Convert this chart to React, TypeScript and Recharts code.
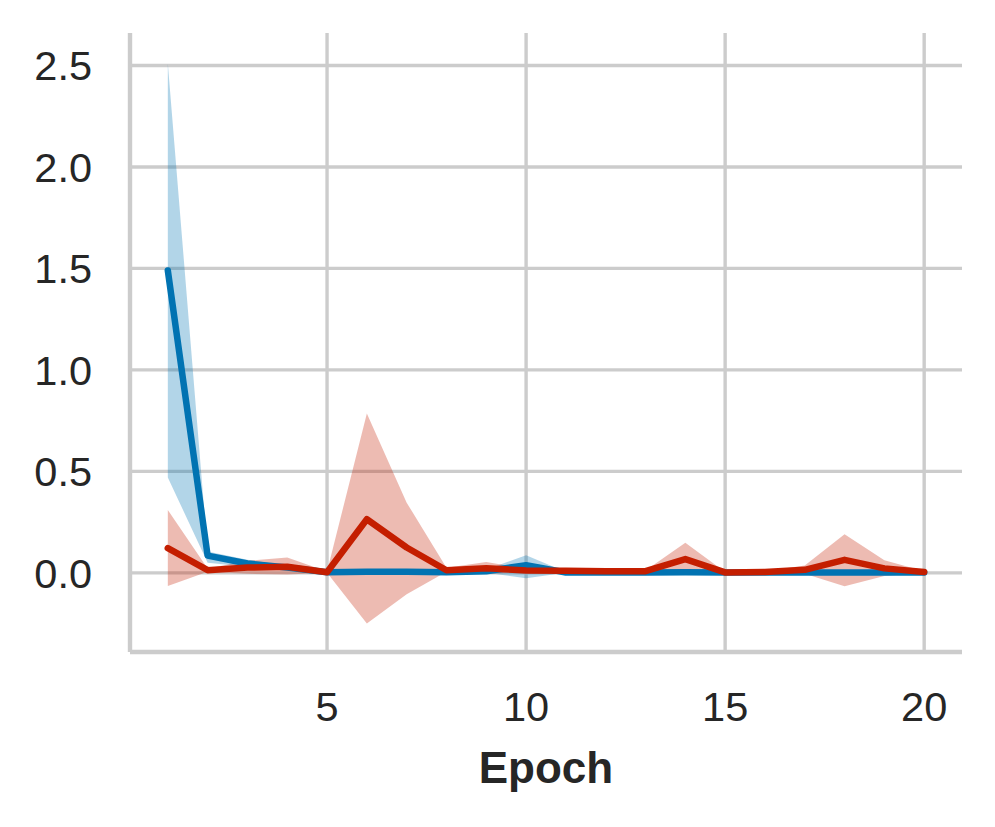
import React from 'react';
import { ComposedChart, Line, Area, XAxis, YAxis, CartesianGrid } from 'recharts';

const epochs = [1, 2, 3, 4, 5, 6, 7, 8, 9, 10, 11, 12, 13, 14, 15, 16, 17, 18, 19, 20];

const blueMean = [1.49, 0.085, 0.046, 0.026, 0.003, 0.006, 0.005, 0.003, 0.008, 0.038, 0.002, 0.002, 0.002, 0.003, 0.002, 0.002, 0.002, 0.002, 0.002, 0.002];
const blueLow = [0.47, 0.05, 0.03, 0.015, 0.0, 0.002, 0.001, 0.0, 0.0, -0.026, 0.0, 0.0, 0.0, 0.0, 0.0, 0.0, 0.0, 0.0, 0.0, 0.0];
const blueHigh = [2.51, 0.105, 0.065, 0.035, 0.007, 0.01, 0.009, 0.006, 0.016, 0.087, 0.004, 0.004, 0.004, 0.006, 0.004, 0.004, 0.004, 0.004, 0.004, 0.004];

const redMean = [0.122, 0.013, 0.026, 0.03, 0.003, 0.264, 0.125, 0.013, 0.023, 0.012, 0.01, 0.008, 0.008, 0.068, 0.002, 0.004, 0.015, 0.064, 0.022, 0.004];
const redLow = [-0.065, 0.005, -0.005, -0.008, 0.0, -0.25, -0.105, 0.005, -0.005, 0.005, 0.005, 0.004, 0.004, -0.01, 0.0, 0.0, -0.005, -0.066, -0.016, 0.0];
const redHigh = [0.31, 0.022, 0.06, 0.076, 0.007, 0.785, 0.346, 0.025, 0.054, 0.02, 0.015, 0.012, 0.012, 0.148, 0.004, 0.008, 0.036, 0.19, 0.062, 0.008];

const xTicks = [5, 10, 15, 20];
const yTicks = [0, 0.5, 1, 1.5, 2, 2.5];

const BLUE = '#0173b2';
const RED = '#c41e00';
const TEXT = '#262626';
const GRID = '#cccccc';
const FONT = '"Liberation Sans", Arial, Helvetica, sans-serif';

const data = epochs.map((e, i) => ({
  epoch: e,
  blue: blueMean[i],
  blueBand: [blueLow[i], blueHigh[i]],
  red: redMean[i],
  redBand: [redLow[i], redHigh[i]],
}));

const EpochLabel = (props: any) => {
  const vb = props.viewBox || {};
  return (
    <text
      x={vb.x + vb.width / 2}
      y={vb.y + 131}
      textAnchor="middle"
      fill={TEXT}
      fontSize={44}
      fontWeight="bold"
      fontFamily={FONT}
    >
      Epoch
    </text>
  );
};

export default function App() {
  return (
    <div style={{ position: 'absolute', left: 0, top: 0, width: 995, height: 827, background: '#ffffff' }}>
      <ComposedChart width={995} height={827} data={data} margin={{ top: 33, right: 33, bottom: 0, left: 0 }}>
        <CartesianGrid stroke={GRID} strokeWidth={3.4} syncWithTicks />
        <XAxis
          dataKey="epoch"
          type="number"
          domain={[0.05, 20.95]}
          ticks={xTicks}
          interval={0}
          allowDataOverflow
          height={175}
          axisLine={{ stroke: GRID, strokeWidth: 4.4 }}
          tickLine={false}
          tickSize={0}
          tickMargin={40}
          tick={{ fill: TEXT, fontSize: 41.5, fontFamily: FONT }}
          label={{ content: EpochLabel }}
        />
        <YAxis
          type="number"
          domain={[-0.39, 2.66]}
          ticks={yTicks}
          interval={0}
          allowDataOverflow
          width={130}
          axisLine={{ stroke: GRID, strokeWidth: 4.4 }}
          tickLine={false}
          tickSize={0}
          tickMargin={38}
          tick={{ fill: TEXT, fontSize: 41.5, fontFamily: FONT }}
          tickFormatter={(v: number) => v.toFixed(1)}
        />
        <Line
          dataKey="blue"
          type="linear"
          stroke={BLUE}
          strokeWidth={6.5}
          strokeLinecap="round"
          strokeLinejoin="round"
          dot={false}
          activeDot={false}
          isAnimationActive={false}
        />
        <Area
          dataKey="blueBand"
          type="linear"
          stroke="none"
          fill={BLUE}
          fillOpacity={0.3}
          dot={false}
          activeDot={false}
          isAnimationActive={false}
        />
        <Line
          dataKey="red"
          type="linear"
          stroke={RED}
          strokeWidth={6.5}
          strokeLinecap="round"
          strokeLinejoin="round"
          dot={false}
          activeDot={false}
          isAnimationActive={false}
        />
        <Area
          dataKey="redBand"
          type="linear"
          stroke="none"
          fill={RED}
          fillOpacity={0.3}
          dot={false}
          activeDot={false}
          isAnimationActive={false}
        />
      </ComposedChart>
    </div>
  );
}
